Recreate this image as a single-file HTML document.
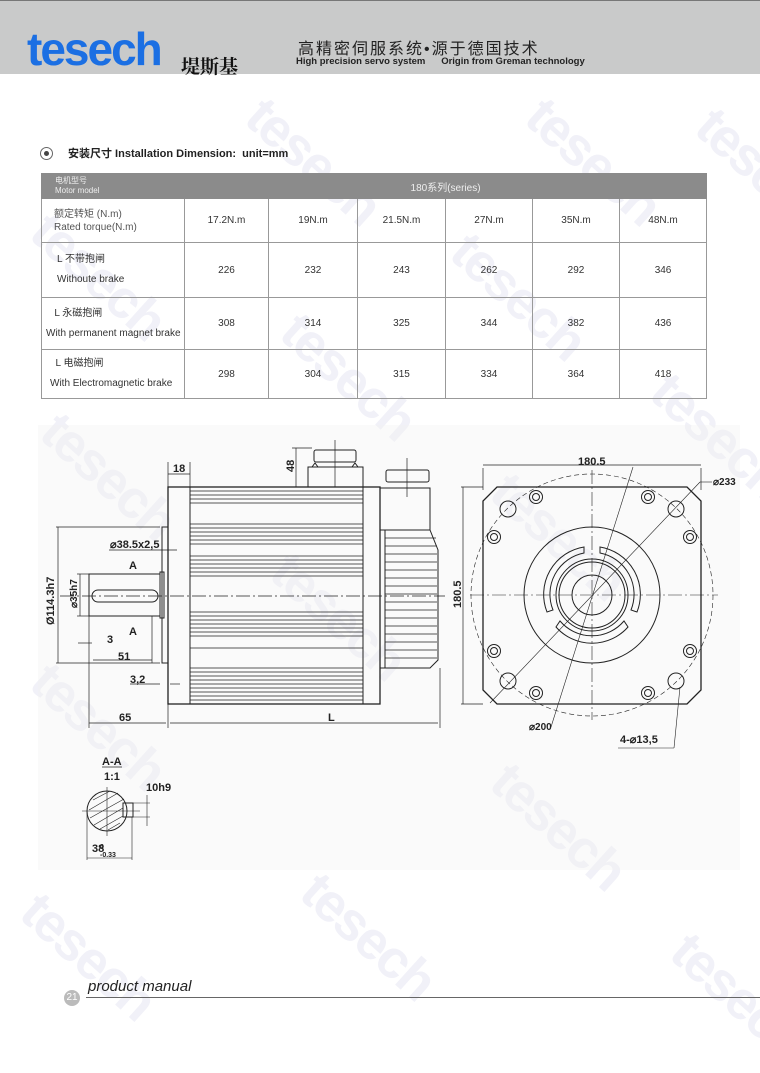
<!DOCTYPE html>
<html><head><meta charset="utf-8"><style>
body{margin:0;width:760px;height:1038px;position:relative;background:#fff;overflow:hidden;font-family:"Liberation Sans","Noto Sans CJK SC",sans-serif}
.a{position:absolute;white-space:nowrap}
.wm{position:absolute;color:#f1f1f8;font:bold 54px "Liberation Sans",sans-serif;transform:rotate(42deg);transform-origin:0 0;letter-spacing:-2px}
table{position:absolute;left:41px;top:173px;width:665px;border-collapse:collapse;font-size:10px;color:#333;table-layout:fixed}
td{border:1px solid #999;text-align:center;padding:0;overflow:hidden}
</style></head><body>
<div class="wm" style="left:275px;top:85px">tesech</div>
<div class="wm" style="left:555px;top:85px">tesech</div>
<div class="wm" style="left:725px;top:95px">tesech</div>
<div class="wm" style="left:60px;top:200px">tesech</div>
<div class="wm" style="left:480px;top:220px">tesech</div>
<div class="wm" style="left:310px;top:300px">tesech</div>
<div class="wm" style="left:680px;top:360px">tesech</div>
<div class="wm" style="left:70px;top:400px">tesech</div>
<div class="wm" style="left:300px;top:540px">tesech</div>
<div class="wm" style="left:520px;top:460px">tesech</div>
<div class="wm" style="left:60px;top:650px">tesech</div>
<div class="wm" style="left:520px;top:750px">tesech</div>
<div class="wm" style="left:330px;top:860px">tesech</div>
<div class="wm" style="left:50px;top:880px">tesech</div>
<div class="wm" style="left:700px;top:920px">tesech</div>
<div style="position:absolute;left:38px;top:425px;width:702px;height:445px;background:rgba(240,240,242,0.35)"></div>

<div style="position:absolute;left:0;top:0;width:760px;height:73px;background:#c9caca;border-top:1px solid #777"></div>
<div class="a" style="left:27px;top:22px;font:bold 46px 'Liberation Sans',sans-serif;color:#1b6fe3;letter-spacing:-2px">tesech</div>
<div class="a" style="left:181px;top:52px;font:bold 19px 'Noto Serif CJK SC',serif;color:#111">堤斯基</div>
<div class="a" style="left:298px;top:35px;font-size:16px;color:#222;letter-spacing:2px">高精密伺服系统•源于德国技术</div>
<div class="a" style="left:296px;top:56px;font:bold 9.5px 'Liberation Sans',sans-serif;color:#222">High precision servo system &nbsp;&nbsp;&nbsp;&nbsp; Origin from Greman technology</div>

<div class="a" style="left:40px;top:147px;width:11px;height:11px;border:1px solid #666;border-radius:50%"></div>
<div class="a" style="left:44px;top:151px;width:5px;height:5px;background:#444;border-radius:50%"></div>
<div class="a" style="left:68px;top:145px;font-size:11px;font-weight:bold;color:#222">安装尺寸 Installation Dimension:&nbsp; unit=mm</div>

<table>
<colgroup><col style="width:143px"><col style="width:84px"><col style="width:89px"><col style="width:88px"><col style="width:87px"><col style="width:87px"><col style="width:87px"></colgroup>
<tr style="height:25px;background:#8b8b8b;color:#eee"><td style="text-align:left;padding-left:13px;font-size:8px;line-height:10px;border-color:#8b8b8b">电机型号<br>Motor model</td><td colspan="6" style="border-color:#8b8b8b">180系列(series)</td></tr>
<tr style="height:44px"><td style="text-align:left;padding-left:12px;line-height:13px;color:#555">额定转矩 (N.m)<br>Rated torque(N.m)</td><td>17.2N.m</td><td>19N.m</td><td>21.5N.m</td><td>27N.m</td><td>35N.m</td><td>48N.m</td></tr>
<tr style="height:55px"><td style="text-align:left;padding-left:15px;line-height:20px">L 不带抱闸<br>Withoute brake</td><td>226</td><td>232</td><td>243</td><td>262</td><td>292</td><td>346</td></tr>
<tr style="height:52px"><td style="text-align:left;padding-left:4px;line-height:20px">&nbsp;&nbsp;&nbsp;L 永磁抱闸<br>With permanent magnet brake</td><td>308</td><td>314</td><td>325</td><td>344</td><td>382</td><td>436</td></tr>
<tr style="height:49px"><td style="text-align:left;padding-left:8px;line-height:20px">&nbsp;&nbsp;L 电磁抱闸<br>With Electromagnetic brake</td><td>298</td><td>304</td><td>315</td><td>334</td><td>364</td><td>418</td></tr>
</table>

<svg style="position:absolute;left:0;top:0" width="760" height="1038" fill="none" stroke="#222" stroke-width="1" font-family="Liberation Sans Narrow,Liberation Sans,sans-serif">
<rect x="168" y="487" width="212" height="217" stroke-width="1.3"/>
<line x1="190" y1="487" x2="190" y2="704"/>
<line x1="363" y1="487" x2="363" y2="704"/>
<g stroke-width="0.8">
<path d="M190 491H363M190 495H363M190 499H363M190 503H363M190 524H363M190 528H363M190 532H363M190 536H363M190 540H363M190 544H363M190 556H363M190 560H363M190 564H363M190 568H363M190 572H363M190 576H363M190 612H363M190 616H363M190 620H363M190 624H363M190 628H363M190 632H363M190 636H363M190 648H363M190 668H363M190 672H363M190 676H363M190 680H363M190 684H363M190 688H363M190 692H363M190 696H363M190 700H363"/>
</g>
<rect x="308" y="467" width="55" height="20"/>
<rect x="314" y="450" width="42" height="12" rx="2"/>
<line x1="317" y1="462" x2="353" y2="462"/>
<path d="M312 467l3-4 3 4M352 467l3-4 3 4"/>
<rect x="380" y="488" width="50" height="42"/>
<rect x="386" y="470" width="43" height="12" rx="2"/>
<line x1="389" y1="482" x2="426" y2="482"/>
<path d="M380 530H430L438 550V660L430 668H380Z"/>
<line x1="385" y1="530" x2="385" y2="668"/>
<g stroke-width="0.8"><path d="M385 538H436M385 546H437M385 554H437M385 562H437M385 570H437M385 578H437M385 586H437M385 594H437M385 602H437M385 610H437M385 618H437M385 626H437M385 634H437M385 642H437M385 650H437M385 658H437"/></g>
<rect x="162" y="527" width="6" height="136"/>
<rect x="160" y="572" width="4" height="46"/>
<rect x="89" y="574" width="71" height="42"/>
<rect x="92" y="590" width="66" height="12" rx="6"/>
<line x1="60" y1="596" x2="445" y2="596" stroke-dasharray="14 3 2 3" stroke-width="0.7"/>
<g stroke-width="0.7">
<line x1="56" y1="527" x2="160" y2="527"/><line x1="56" y1="663" x2="160" y2="663"/><line x1="58" y1="527" x2="58" y2="663"/>
<line x1="77" y1="574" x2="89" y2="574"/><line x1="77" y1="616" x2="89" y2="616"/><line x1="80" y1="574" x2="80" y2="616"/>
<line x1="109" y1="550" x2="177" y2="550"/>
<line x1="89" y1="616" x2="89" y2="728"/><line x1="168" y1="663" x2="168" y2="728"/><line x1="440" y1="668" x2="440" y2="728"/>
<line x1="89" y1="723" x2="166" y2="723"/><line x1="170" y1="723" x2="438" y2="723"/>
<line x1="93" y1="660" x2="152" y2="660"/><line x1="152" y1="616" x2="152" y2="663"/>
<line x1="78" y1="643" x2="92" y2="643"/>
<line x1="130" y1="684" x2="160" y2="684"/><line x1="170" y1="684" x2="180" y2="684"/>
<line x1="168" y1="462" x2="168" y2="487"/><line x1="190" y1="462" x2="190" y2="487"/><line x1="168" y1="474" x2="190" y2="474"/>
<line x1="292" y1="448" x2="312" y2="448"/><line x1="296" y1="448" x2="296" y2="487"/>
<line x1="335" y1="440" x2="335" y2="487"/><line x1="407" y1="458" x2="407" y2="497"/>
<line x1="483" y1="468" x2="483" y2="490"/><line x1="701" y1="468" x2="701" y2="490"/><line x1="483" y1="465" x2="701" y2="465"/>
<line x1="461" y1="487" x2="483" y2="487"/><line x1="461" y1="704" x2="483" y2="704"/><line x1="463" y1="487" x2="463" y2="704"/>
</g>
<g fill="#222" stroke="none" font-size="11" font-weight="bold">
<text x="173" y="472">18</text>
<text x="110" y="548">⌀38.5x2,5</text>
<text x="129" y="569">A</text><text x="129" y="635">A</text>
<text x="107" y="643">3</text><text x="118" y="660">51</text>
<text x="130" y="683">3,2</text><text x="119" y="721">65</text>
<text x="328" y="721">L</text>
<text x="578" y="465">180.5</text>
<text x="713" y="485" font-size="10">⌀233</text>
<text x="529" y="730" font-size="10">⌀200</text>
<text x="620" y="743">4-⌀13,5</text>
<text x="102" y="765">A-A</text><text x="104" y="780">1:1</text>
<text x="146" y="791">10h9</text>
<text x="92" y="852">38</text>
</g>
<g fill="#222" stroke="none" font-size="7" font-weight="bold"><text x="100" y="849">0</text><text x="100" y="857">-0.33</text></g>
<g fill="#222" stroke="none" font-size="11" font-weight="bold">
<text transform="translate(54,625) rotate(-90)">Ø114.3h7</text>
<text transform="translate(77,608) rotate(-90)" font-size="10">⌀35h7</text>
<text transform="translate(294,472) rotate(-90)">48</text>
<text transform="translate(461,608) rotate(-90)">180.5</text>
</g>
<path d="M497 487H687L701 501V690L687 704H497L483 690V501Z" stroke-width="1.3"/>
<circle cx="592" cy="595" r="121" stroke-dasharray="5 3" stroke-width="0.6"/>
<line x1="470" y1="595" x2="718" y2="595" stroke-dasharray="14 3 2 3" stroke-width="0.6"/>
<line x1="592" y1="470" x2="592" y2="720" stroke-dasharray="14 3 2 3" stroke-width="0.6"/>
<line x1="490" y1="703" x2="700" y2="482" stroke-width="0.6"/>
<line x1="551" y1="727" x2="633" y2="467" stroke-width="0.6"/>
<line x1="700" y1="482" x2="712" y2="482" stroke-width="0.6"/>
<line x1="680" y1="687" x2="674" y2="748" stroke-width="0.6"/><line x1="618" y1="748" x2="674" y2="748" stroke-width="0.6"/>
<circle cx="592" cy="595" r="68"/>
<circle cx="592" cy="595" r="36"/><circle cx="592" cy="595" r="33"/><circle cx="592" cy="595" r="20"/>
<path d="M584 547A48 48 0 0 0 547 612L553 610A42 42 0 0 1 584 553Z"/>
<path d="M600 547A48 48 0 0 1 637 612L631 610A42 42 0 0 0 600 553Z"/>
<path d="M556 627A48 48 0 0 0 628 627L624 621A42 42 0 0 1 560 621Z"/>
<g>
<circle cx="508" cy="509" r="8"/><circle cx="676" cy="509" r="8"/><circle cx="508" cy="681" r="8"/><circle cx="676" cy="681" r="8"/>
<circle cx="536" cy="497" r="6.5"/><circle cx="536" cy="497" r="3.5"/>
<circle cx="648" cy="497" r="6.5"/><circle cx="648" cy="497" r="3.5"/>
<circle cx="536" cy="693" r="6.5"/><circle cx="536" cy="693" r="3.5"/>
<circle cx="648" cy="693" r="6.5"/><circle cx="648" cy="693" r="3.5"/>
<circle cx="494" cy="537" r="6.5"/><circle cx="494" cy="537" r="3.5"/>
<circle cx="690" cy="537" r="6.5"/><circle cx="690" cy="537" r="3.5"/>
<circle cx="494" cy="651" r="6.5"/><circle cx="494" cy="651" r="3.5"/>
<circle cx="690" cy="651" r="6.5"/><circle cx="690" cy="651" r="3.5"/>
</g>
<line x1="102" y1="767" x2="122" y2="767" stroke-width="0.7"/>
<circle cx="107" cy="811" r="20"/>
<rect x="123" y="803" width="10" height="14"/>
<g stroke-width="0.6"><path d="M93 800L110 791M89 810L118 793M90 818L124 799M94 825L123 808M100 829L123 816M108 830L120 823M82 811H140M107 787V836"/>
<line x1="133" y1="803" x2="150" y2="803"/><line x1="133" y1="817" x2="150" y2="817"/><line x1="147" y1="795" x2="147" y2="826"/>
<line x1="87" y1="811" x2="87" y2="860"/><line x1="132" y1="817" x2="132" y2="860"/><line x1="87" y1="858" x2="132" y2="858"/></g>
</svg>

<div class="a" style="left:64px;top:990px;width:16px;height:16px;border-radius:50%;background:#bbb;color:#fff;font-size:10px;text-align:center;line-height:16px">21</div>
<div class="a" style="left:88px;top:978px;font-size:15px;font-style:italic;color:#222">product manual</div>
<div class="a" style="left:86px;top:997px;width:674px;height:1px;background:#666"></div>
</body></html>
